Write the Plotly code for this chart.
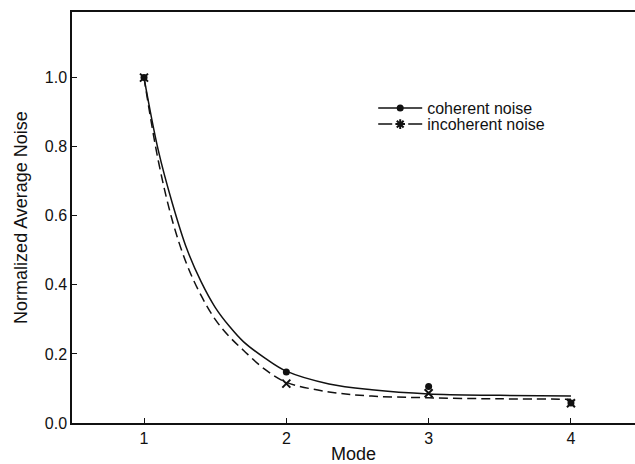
import plotly.graph_objects as go

# Measured data points
modes = [1, 2, 3, 4]
coherent = [1.0, 0.148, 0.106, 0.058]
incoherent = [1.0, 0.114, 0.086, 0.057]

# Fitted curves
fit_x = [1.0, 1.1, 1.2, 1.3, 1.4, 1.5, 1.6, 1.7, 1.85, 2.0, 2.3, 2.6, 3.0, 3.5, 4.0]
coherent_fit = [1.0, 0.79, 0.635, 0.505, 0.41, 0.335, 0.28, 0.235, 0.188, 0.150, 0.113, 0.096, 0.084, 0.080, 0.078]
incoherent_fit = [1.0, 0.76, 0.585, 0.46, 0.37, 0.30, 0.25, 0.21, 0.155, 0.118, 0.090, 0.078, 0.073, 0.070, 0.069]

x_ticks = [1, 2, 3, 4]
y_ticks = [0.0, 0.2, 0.4, 0.6, 0.8, 1.0]

FONT = "Liberation Sans, Arial, sans-serif"
BLACK = "#111111"

fig = go.Figure()
fig.add_trace(go.Scatter(x=fit_x, y=coherent_fit, mode="lines",
                         line=dict(color=BLACK, width=1.5, shape="spline", smoothing=1.0),
                         showlegend=False, hoverinfo="skip"))
fig.add_trace(go.Scatter(x=fit_x, y=incoherent_fit, mode="lines",
                         line=dict(color=BLACK, width=1.5, dash="9px,5px", shape="spline", smoothing=1.0),
                         showlegend=False, hoverinfo="skip"))
fig.add_trace(go.Scatter(x=modes, y=coherent, mode="markers",
                         marker=dict(symbol="circle", size=7, color=BLACK), showlegend=False))
fig.add_trace(go.Scatter(x=modes, y=incoherent, mode="markers",
                         marker=dict(symbol="x-thin-open", size=8, color=BLACK, line=dict(width=2, color=BLACK)),
                         showlegend=False))
# legend entries
fig.add_trace(go.Scatter(x=[None], y=[None], mode="lines+markers", name="coherent noise",
                         line=dict(color=BLACK, width=1.5),
                         marker=dict(symbol="circle", size=7, color=BLACK), legend="legend"))
fig.add_trace(go.Scatter(x=[None], y=[None], mode="lines+markers", name="incoherent noise",
                         line=dict(color=BLACK, width=1.5, dash="14px,16px"),
                         marker=dict(symbol="asterisk-open", size=8, color=BLACK, line=dict(width=2, color=BLACK)),
                         legend="legend2"))

leg_common = dict(xanchor="left", yanchor="middle", bgcolor="rgba(0,0,0,0)",
                  borderwidth=0, font=dict(size=16, family=FONT, color=BLACK), itemwidth=44)

fig.update_layout(
    width=635, height=464,
    margin=dict(l=72, r=0, t=12, b=41),
    paper_bgcolor="white", plot_bgcolor="white",
    font=dict(family=FONT, size=16, color=BLACK),
    showlegend=True,
    legend=dict(x=0.535, y=0.766, **leg_common),
    legend2=dict(x=0.535, y=0.727, **leg_common),
    xaxis=dict(range=[0.494, 4.45], tickvals=x_ticks, ticktext=[str(v) for v in x_ticks],
               ticks="inside", ticklen=5, tickwidth=1.2, tickcolor=BLACK,
               showline=True, linewidth=1.5, linecolor=BLACK, mirror=True,
               showgrid=False, zeroline=False, tickfont=dict(size=16),
               title=dict(text="Mode", font=dict(size=18), standoff=5)),
    yaxis=dict(range=[0, 1.19], tickvals=y_ticks, ticktext=[f"{v:.1f}" for v in y_ticks],
               ticks="inside", ticklen=5, tickwidth=1.2, tickcolor=BLACK,
               showline=True, linewidth=1.5, linecolor=BLACK, mirror=False,
               showgrid=False, zeroline=False, tickfont=dict(size=16),
               title=dict(text="Normalized Average Noise", font=dict(size=18), standoff=12)),
)

fig.write_html("out.html", config={"displayModeBar": False})
